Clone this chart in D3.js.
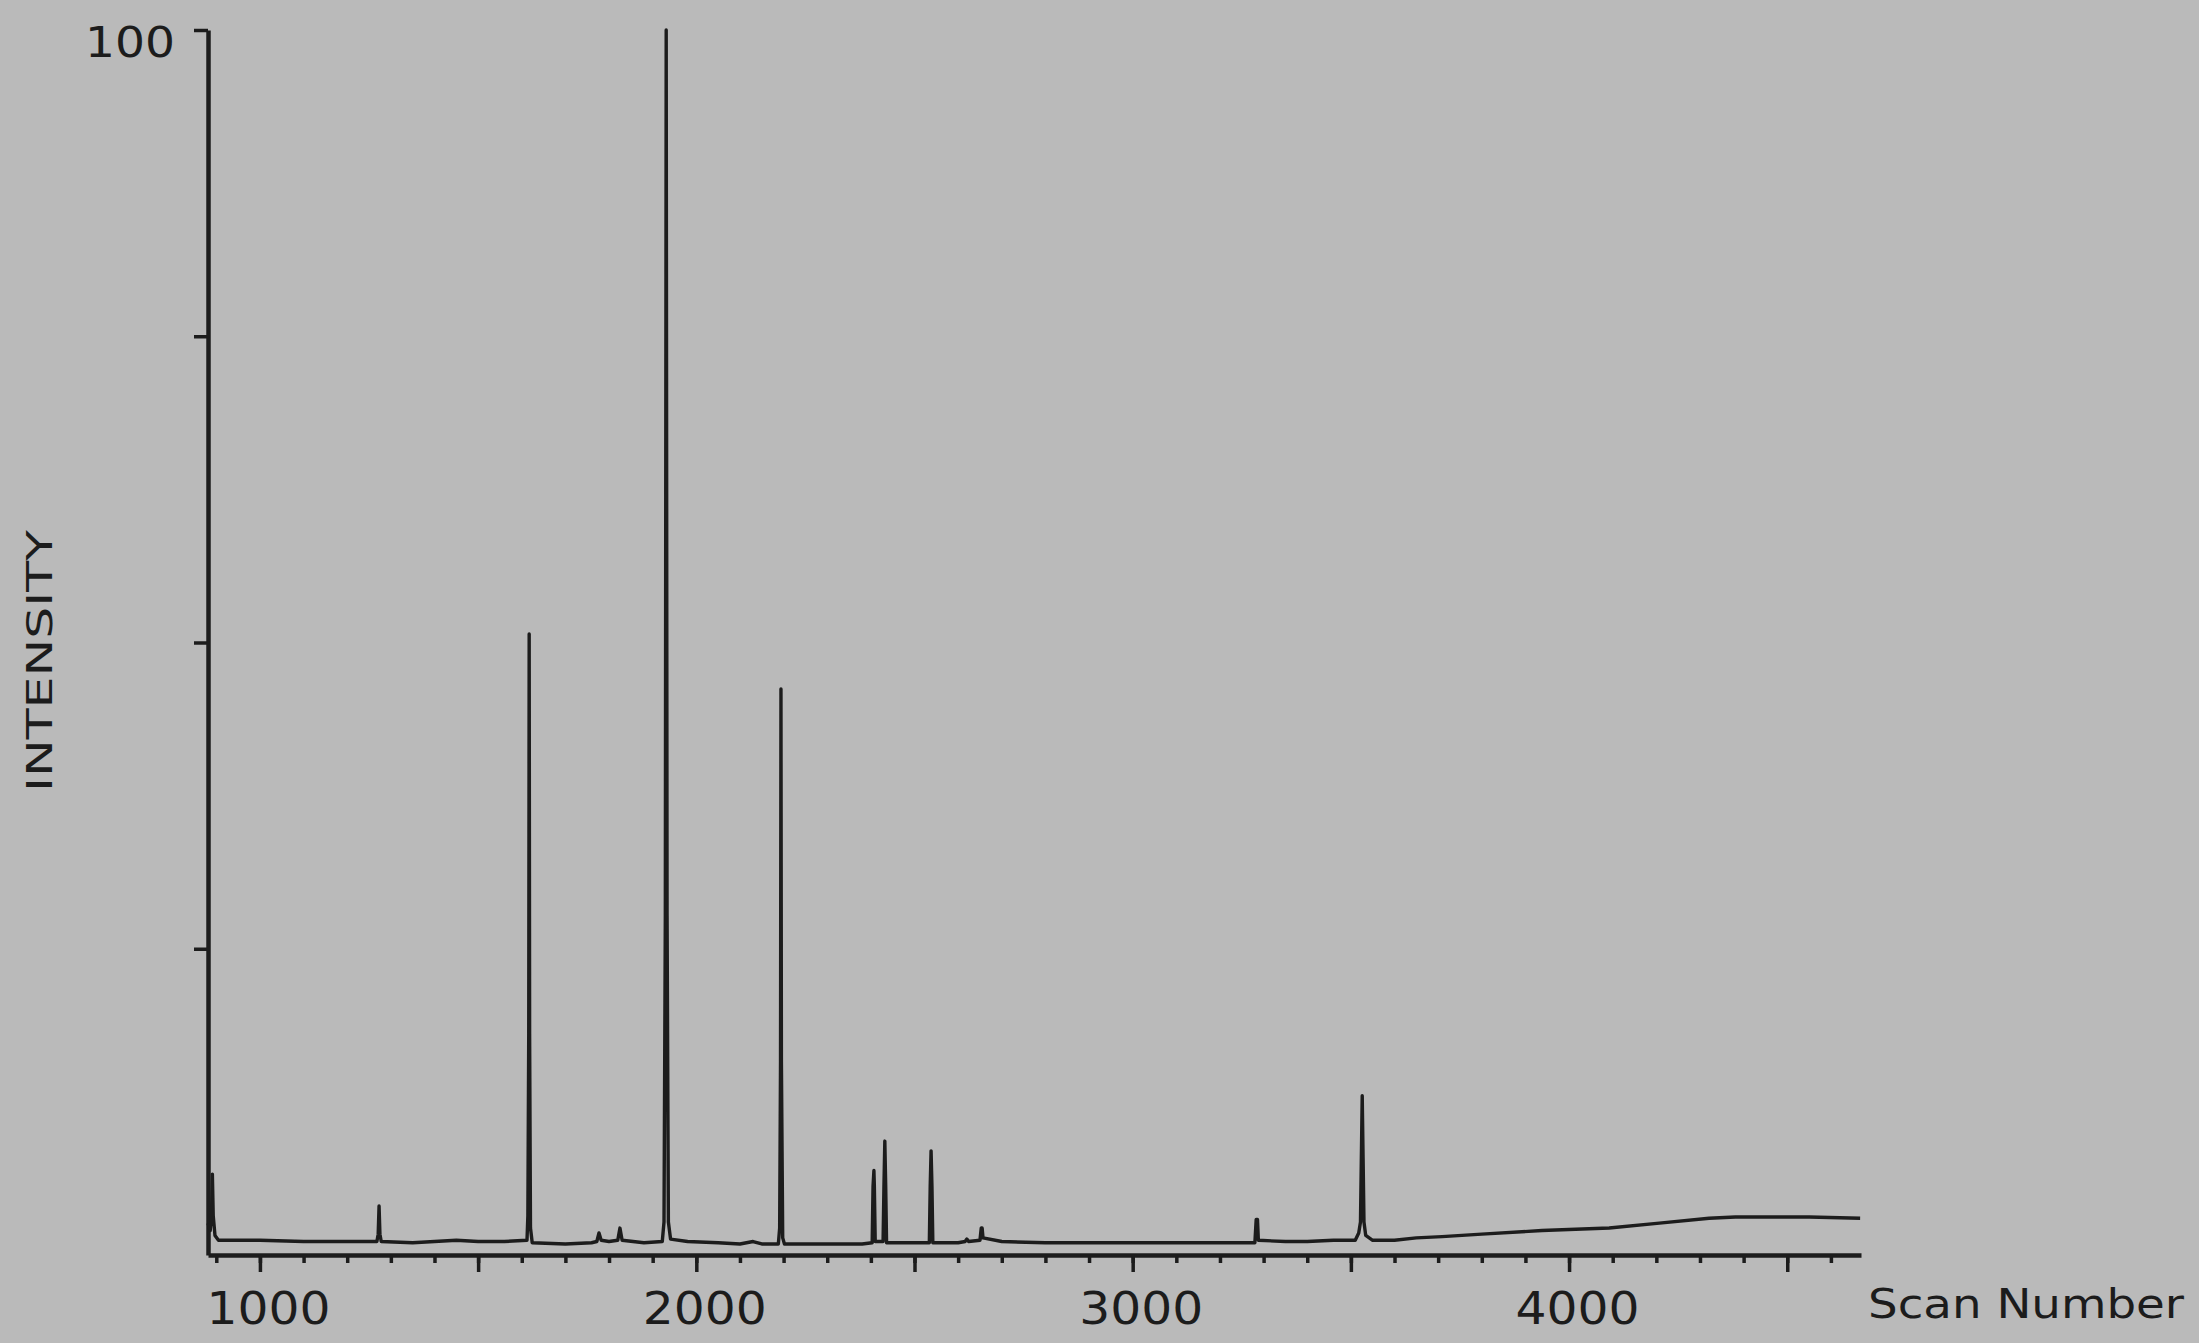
<!DOCTYPE html>
<html>
<head>
<meta charset="utf-8">
<script src="https://cdn.jsdelivr.net/npm/d3@7"></script>
<style>
  html, body { margin: 0; padding: 0; background: #bababa; }
  svg { display: block; }
</style>
</head>
<body>
<div id="container"></div>
<script>
const WIDTH = 2199;
const HEIGHT = 1343;

// total ion trace
const scans = [
  881, 886, 889, 891, 893, 897, 905, 1000, 1100, 1200,
  1268, 1271, 1273, 1275, 1278, 1350, 1400, 1450, 1500, 1560,
  1612, 1614, 1616, 1617, 1618, 1620, 1624, 1700, 1760, 1772,
  1777, 1782, 1800, 1820, 1825, 1830, 1880, 1922, 1926, 1929,
  1931, 1933, 1936, 1941, 1980, 2050, 2100, 2130, 2150, 2188,
  2191, 2193, 2194, 2195, 2198, 2202, 2260, 2300, 2380, 2403,
  2405, 2407, 2408, 2410, 2428, 2430, 2432, 2434, 2436, 2500,
  2534, 2536, 2538, 2540, 2542, 2600, 2616, 2620, 2624, 2650,
  2653, 2655, 2657, 2700, 2800, 2900, 3000, 3100, 3200, 3280,
  3283, 3286, 3288, 3350, 3400, 3460, 3510, 3518, 3522, 3524,
  3526, 3528, 3530, 3534, 3550, 3600, 3650, 3709, 3800, 3938,
  4092, 4207, 4321, 4381, 4450, 4550, 4667
];
const intensity = [
  2.6, 2.0, 3.2, 6.6, 3.2, 1.6, 1.2, 1.2, 1.1, 1.1,
  1.1, 1.7, 4.0, 1.7, 1.1, 1.0, 1.1, 1.2, 1.1, 1.1,
  1.2, 3.2, 18.1, 50.7, 18.1, 2.2, 1.0, 0.9, 1.0, 1.1,
  1.8, 1.2, 1.1, 1.2, 2.2, 1.2, 1.0, 1.1, 2.7, 27.7,
  100, 27.7, 2.7, 1.3, 1.1, 1.0, 0.9, 1.1, 0.9, 0.9,
  2.2, 15.8, 46.2, 15.8, 1.4, 0.9, 0.9, 0.9, 0.9, 1.0,
  5.6, 6.9, 5.6, 1.1, 1.1, 5.6, 9.3, 5.6, 1.0, 1.0,
  1.0, 5.6, 8.5, 5.6, 1.0, 1.0, 1.1, 1.3, 1.1, 1.2,
  2.2, 2.2, 1.4, 1.1, 1.0, 1.0, 1.0, 1.0, 1.0, 1.0,
  2.9, 2.9, 1.2, 1.1, 1.1, 1.2, 1.2, 1.8, 2.7, 7.9,
  13.0, 7.9, 2.7, 1.6, 1.2, 1.2, 1.4, 1.5, 1.7, 2.0,
  2.2, 2.6, 3.0, 3.1, 3.1, 3.1, 3.0
];

// axes
const xMinorTicks = d3.range(900, 4700, 100);
const xMajorTicks = [1000, 1500, 2000, 2500, 3000, 3500, 4000, 4500];
const xLabels = [1000, 2000, 3000, 4000];
const yTicks = [25, 50, 75, 100];
const yLabels = [100];

const INK = "#1c1c1c";

const svg = d3.select("#container").append("svg")
  .attr("width", WIDTH)
  .attr("height", HEIGHT);

svg.append("rect")
  .attr("width", WIDTH)
  .attr("height", HEIGHT)
  .attr("fill", "#bababa");

const x = d3.scaleLinear().domain([881, 4669]).range([208, 1861]);
const y = d3.scaleLinear().domain([0, 100]).range([1255, 30]);

// x axis: minor ticks, then major ticks with labels
const xMinor = svg.append("g")
  .attr("transform", `translate(0,${y(0)})`)
  .call(d3.axisBottom(x).tickValues(xMinorTicks).tickSize(8).tickSizeOuter(0).tickFormat(""));
xMinor.select(".domain").remove();

const xMajor = svg.append("g")
  .attr("transform", `translate(0,${y(0)})`)
  .call(d3.axisBottom(x).tickValues(xMajorTicks).tickSize(17).tickSizeOuter(0)
    .tickFormat(d => xLabels.includes(d) ? d : ""));

svg.selectAll(".tick line").attr("stroke", INK).attr("stroke-width", 3.5);
xMajor.select(".domain").attr("stroke", INK).attr("stroke-width", 4.5);
xMajor.selectAll("text")
  .attr("x", 8)
  .attr("y", 38)
  .attr("dy", "0.71em")
  .attr("fill", INK)
  .style("font-family", "DejaVu Sans, sans-serif")
  .style("font-size", "44px")
  .attr("textLength", 124)
  .attr("lengthAdjust", "spacingAndGlyphs");

// y axis
const yAxis = svg.append("g")
  .attr("transform", `translate(${x(881)},0)`)
  .call(d3.axisLeft(y).tickValues(yTicks).tickSize(14).tickSizeOuter(0)
    .tickFormat(d => yLabels.includes(d) ? d : ""));
yAxis.select(".domain").attr("stroke", INK).attr("stroke-width", 4.5);
yAxis.selectAll(".tick line").attr("stroke", INK).attr("stroke-width", 3.5);
yAxis.selectAll("text")
  .attr("x", -33)
  .attr("dy", "0.62em")
  .attr("fill", INK)
  .style("font-family", "DejaVu Sans, sans-serif")
  .style("font-size", "42px")
  .attr("textLength", 90)
  .attr("lengthAdjust", "spacingAndGlyphs");

// trace
const points = scans.map((s, i) => [s, intensity[i]]);
const line = d3.line()
  .x(d => x(d[0]))
  .y(d => y(d[1]));

svg.append("path")
  .datum(points)
  .attr("d", line)
  .attr("fill", "none")
  .attr("stroke", INK)
  .attr("stroke-width", 3.4)
  .attr("stroke-linejoin", "round");

// axis titles
svg.append("text")
  .attr("x", 1868)
  .attr("y", 1318)
  .attr("fill", INK)
  .style("font-family", "DejaVu Sans, sans-serif")
  .style("font-size", "40px")
  .attr("textLength", 316)
  .attr("lengthAdjust", "spacingAndGlyphs")
  .text("Scan Number");

svg.append("text")
  .attr("transform", "translate(52,661) rotate(-90)")
  .attr("text-anchor", "middle")
  .attr("fill", INK)
  .style("font-family", "DejaVu Sans, sans-serif")
  .style("font-size", "36px")
  .attr("textLength", 262)
  .attr("lengthAdjust", "spacingAndGlyphs")
  .text("INTENSITY");
</script>
</body>
</html>
